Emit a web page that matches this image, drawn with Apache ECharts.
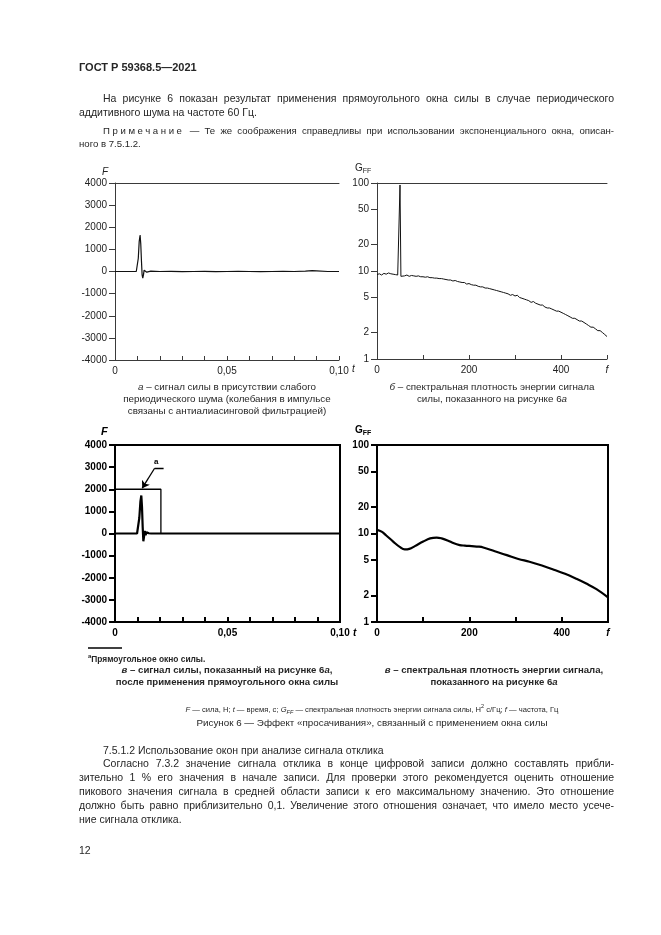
<!DOCTYPE html>
<html><head><meta charset="utf-8">
<script src="https://cdn.jsdelivr.net/npm/echarts@6/dist/echarts.min.js"></script>
<style>
html,body{margin:0;padding:0;background:#fff;}
#page{position:relative;width:661px;height:935px;overflow:hidden;font-family:"Liberation Sans",Arial,sans-serif;color:#262626;background:#fff;}
#chart{position:absolute;left:0;top:0;width:661px;height:935px;}
.t{position:absolute;white-space:nowrap;line-height:14px;font-size:10.5px;z-index:2;}
.j{position:absolute;line-height:14px;height:14px;font-size:10.5px;text-align:justify;text-align-last:justify;z-index:2;}
.c{position:absolute;text-align:center;line-height:12px;font-size:9.8px;z-index:2;white-space:nowrap;}
.b{font-weight:bold;}
</style>
</head><body>
<div id="page">
<div id="chart"></div>
<div class="t b" style="left:79px;top:60px;font-size:11px;">ГОСТ Р 59368.5—2021</div>
<div class="j" style="left:103px;width:511px;top:91px;">На рисунке 6 показан результат применения прямоугольного окна силы в случае периодического</div>
<div class="t" style="left:79px;top:105px;">аддитивного шума на частоте 60 Гц.</div>
<div class="j" style="left:103px;width:511px;top:124px;font-size:9.6px;"><span style="letter-spacing:2.6px;">Примечание</span> — Те же соображения справедливы при использовании экспоненциального окна, описан-</div>
<div class="t" style="left:79px;top:137px;font-size:9.6px;">ного в 7.5.1.2.</div>

<div class="c" style="left:77px;width:300px;top:381px;"><i>а</i> – сигнал силы в присутствии слабого<br>периодического шума (колебания в импульсе<br>связаны с антиалиасинговой фильтрацией)</div>
<div class="c" style="left:342px;width:300px;top:381px;"><i>б</i> – спектральная плотность энергии сигнала<br>силы, показанного на рисунке 6<i>а</i></div>

<div class="t b" style="left:88px;top:650px;font-size:8.4px;line-height:12px;"><sup style="font-size:6px;">a</sup>Прямоугольное окно силы.</div>
<div class="c b" style="left:77px;width:300px;top:664px;font-size:9.6px;"><i>в</i> – сигнал силы, показанный на рисунке 6<i>а</i>,<br>после применения прямоугольного окна силы</div>
<div class="c b" style="left:344px;width:300px;top:664px;font-size:9.6px;"><i>в</i> – спектральная плотность энергии сигнала,<br>показанного на рисунке 6<i>а</i></div>

<div class="c" style="left:122px;width:500px;top:700px;font-size:7.6px;"><i>F</i> — сила, Н; <i>t</i> — время, с; <i>G</i><sub style="font-size:5.5px;"><i>FF</i></sub> — спектральная плотность энергии сигнала силы, Н<sup style="font-size:5.5px;">2</sup> с/Гц; <i>f</i> — частота, Гц</div>
<div class="c" style="left:122px;width:500px;top:717px;font-size:9.8px;">Рисунок 6 — Эффект «просачивания», связанный с применением окна силы</div>

<div class="t" style="left:103px;top:743px;">7.5.1.2 Использование окон при анализе сигнала отклика</div>
<div class="j" style="left:103px;width:511px;top:756px;">Согласно 7.3.2 значение сигнала отклика в конце цифровой записи должно составлять прибли-</div>
<div class="j" style="left:79px;width:535px;top:770px;">зительно 1 % его значения в начале записи. Для проверки этого рекомендуется оценить отношение</div>
<div class="j" style="left:79px;width:535px;top:784px;">пикового значения сигнала в средней области записи к его максимальному значению. Это отношение</div>
<div class="j" style="left:79px;width:535px;top:798px;">должно быть равно приблизительно 0,1. Увеличение этого отношения означает, что имело место усече-</div>
<div class="t" style="left:79px;top:812px;">ние сигнала отклика.</div>
<div class="t" style="left:79px;top:843px;">12</div>
</div>
<script>
// ---- data ----
// (a) force signal with weak periodic noise
const timeA = [0, 0.005, 0.0095, 0.0100, 0.0104, 0.0108, 0.0112, 0.0115, 0.0118, 0.0121, 0.0124, 0.0127, 0.0130, 0.0134, 0.0138, 0.0142, 0.0146, 0.0150, 0.016, 0.020, 0.025, 0.030, 0.035, 0.040, 0.045, 0.050, 0.055, 0.060, 0.065, 0.070, 0.075, 0.080, 0.085, 0.088, 0.090, 0.095, 0.100];
const forceA = [0, 0, 0, 30, 600, 1350, 1650, 1250, 500, -150, -300, -150, 60, 110, 20, -30, 40, 10, 20, 0, 10, -10, 0, 10, -10, 0, 10, 0, -10, 0, 10, 0, 20, 40, 30, 0, 0];
// (b) spectrum of (a)
const freqB = [0,5,10,15,20,25,30,35,40,45,48,50,52,55,60,65,70,75,80,85,90,95,100,105,110,115,120,125,130,135,140,145,150,155,160,165,170,175,180,185,190,195,200,205,210,215,220,225,230,235,240,245,250,255,260,265,270,275,280,285,290,295,300,305,310,315,320,325,330,335,340,345,350,355,360,365,370,375,380,385,390,395,400,405,410,415,420,425,430,435,440,445,450,455,460,465,470,475,480,485,490,495,500];
const gffB = [9.1,9.3,9.0,9.4,9.2,9.5,9.3,9.2,9.1,9.0,8.9,95,8.7,9.1,8.8,9.0,8.7,8.9,8.8,8.7,8.8,8.6,8.6,8.5,8.6,8.4,8.4,8.3,8.3,8.2,8.2,8.1,8.0,7.9,7.9,7.7,7.8,7.6,7.5,7.4,7.4,7.1,7.2,7.0,6.9,6.9,6.7,6.6,6.6,6.4,6.4,6.3,6.2,6.1,6.0,5.9,5.8,5.7,5.6,5.5,5.3,5.4,5.2,5.3,5.0,4.9,4.8,4.7,4.6,4.4,4.5,4.3,4.2,4.1,4.1,3.9,3.8,3.8,3.7,3.6,3.5,3.5,3.4,3.3,3.2,3.1,3.0,2.9,2.9,2.8,2.7,2.7,2.6,2.5,2.4,2.3,2.3,2.2,2.1,2.1,2.0,1.9,1.8];
// (c) force after rectangular window
const timeC = [0, 0.0098, 0.0103, 0.0108, 0.0113, 0.0117, 0.0120, 0.0123, 0.0126, 0.0129, 0.0132, 0.0136, 0.0140, 0.0145, 0.0150, 0.0160, 0.0204, 0.03, 0.04, 0.05, 0.06, 0.07, 0.08, 0.09, 0.1];
const forceC = [0, 0, 80, 700, 1450, 1720, 1200, 300, -350, -150, 120, -80, 60, -20, 10, 0, 0, 0, 0, 0, 0, 0, 0, 0, 0];
const windowT = [0, 0.0204, 0.0204];
const windowF = [2000, 2000, 0];
const leaderT = [0.0216, 0.0176, 0.0121];
const leaderF = [2950, 2950, 2050];
// (d) spectrum of (c)
const freqD = [0,10,20,35,50,60,70,82,100,115,129,140,154,165,179,190,205,220,230,255,281,306,330,357,380,407,430,454,475,500];
const gffD = [11.0,10.5,9.5,8.1,7.0,6.6,6.7,7.2,8.1,8.8,9.0,8.8,8.3,7.8,7.4,7.3,7.2,7.1,6.95,6.3,5.7,5.15,4.8,4.35,3.95,3.5,3.1,2.7,2.35,1.9];
// ticks
const forceMin = -4000, forceMax = 4000, forceStep = 1000;
const timeLabels = [0, 0.05, 0.1];
const logTicks = [1, 2, 5, 10, 20, 50, 100];
const freqLabels = [0, 200, 400, 500];

const zip = (a, b) => a.map((v, i) => [v, b[i]]);
const FF = '"Liberation Sans", Arial, sans-serif';
const thin = {color: '#3a3a3a', width: 1};
const thick = {color: '#000', width: 2};
const lblThin = {fontSize: 10, color: '#222', fontFamily: FF};
const lblBold = {fontSize: 10, color: '#000', fontFamily: FF, fontWeight: 'bold'};
const fmtT = v => v === 0 ? '0' : v.toFixed(2).replace('.', ',');
const fmtF = v => v === 500 ? '{i|f}' : String(v);
const fmtLog = v => String(Math.round(Math.pow(10, v)));
const fmtInt = v => String(v);
const logPos = logTicks.map(Math.log10);

function timeAxis(g, bold) {
  return {gridIndex: g, type: 'value', min: 0, max: 0.1, interval: 0.01,
    axisLine: {show: true, onZero: false, lineStyle: bold ? thick : thin},
    axisTick: {show: true, inside: true, length: bold ? 5 : 4, lineStyle: bold ? thick : thin},
    axisLabel: Object.assign({customValues: timeLabels, formatter: fmtT, margin: 6}, bold ? lblBold : lblThin),
    splitLine: {show: false}};
}
function freqAxis(g, bold) {
  return {gridIndex: g, type: 'value', min: 0, max: 500, interval: 100,
    axisLine: {show: true, onZero: false, lineStyle: bold ? thick : thin},
    axisTick: {show: true, inside: true, length: bold ? 5 : 4, lineStyle: bold ? thick : thin},
    axisLabel: Object.assign({customValues: freqLabels, formatter: fmtF, margin: 6,
      rich: {i: {fontStyle: 'italic', fontSize: 10, fontWeight: bold ? 'bold' : 'normal', fontFamily: FF, color: bold ? '#000' : '#222'}}}, bold ? lblBold : lblThin),
    splitLine: {show: false}};
}
function topLine(g, max) {
  return {gridIndex: g, type: 'value', position: 'top', min: 0, max: max,
    axisLine: {show: true, onZero: false, lineStyle: thin}, axisTick: {show: false}, axisLabel: {show: false}, splitLine: {show: false}};
}
function forceAxis(g, bold) {
  return {gridIndex: g, type: 'value', position: 'left', min: forceMin, max: forceMax, interval: forceStep,
    axisLine: {show: true, onZero: false, lineStyle: bold ? thick : thin},
    axisTick: {show: true, length: 6, lineStyle: bold ? thick : thin},
    axisLabel: Object.assign({margin: 8, formatter: fmtInt}, bold ? lblBold : lblThin),
    splitLine: {show: false}};
}
function logAxis(g, bold) {
  return {gridIndex: g, type: 'log', logBase: 10, min: 1, max: 100, position: 'left',
    axisLine: {show: true, onZero: false, lineStyle: bold ? thick : thin},
    axisTick: {show: false}, axisLabel: {show: false}, splitLine: {show: false}, minorTick: {show: false}};
}
function logLabelAxis(g, bold) {
  return {gridIndex: g, type: 'value', min: 0, max: 2, position: 'left', offset: 0,
    axisLine: {show: false, onZero: false},
    axisTick: {show: true, length: 6, customValues: logPos, lineStyle: bold ? thick : thin},
    axisLabel: Object.assign({customValues: logPos, formatter: fmtLog, margin: 8}, bold ? lblBold : lblThin),
    splitLine: {show: false}};
}

const chart = echarts.init(document.getElementById('chart'), null, {width: 661, height: 935});
chart.setOption({
  animation: false,
  grid: [
    {left: 115, top: 183, width: 224, height: 177},
    {left: 377, top: 183, width: 230, height: 176},
    {left: 115, top: 445, width: 225, height: 177, show: true, borderColor: '#000', borderWidth: 2},
    {left: 377, top: 445, width: 231, height: 177, show: true, borderColor: '#000', borderWidth: 2}
  ],
  xAxis: [timeAxis(0, false), topLine(0, 0.1), freqAxis(1, false), topLine(1, 500), timeAxis(2, true), freqAxis(3, true)],
  yAxis: [forceAxis(0, false), logAxis(1, false), logLabelAxis(1, false), forceAxis(2, true), logAxis(3, true), logLabelAxis(3, true)],
  series: [
    {type: 'line', xAxisIndex: 0, yAxisIndex: 0, data: zip(timeA, forceA), showSymbol: false, lineStyle: {color: '#111', width: 1.2}},
    {type: 'line', xAxisIndex: 2, yAxisIndex: 1, data: zip(freqB, gffB), showSymbol: false, lineStyle: {color: '#111', width: 1}},
    {type: 'line', xAxisIndex: 4, yAxisIndex: 3, data: zip(windowT, windowF), showSymbol: false, lineStyle: {color: '#000', width: 1.3}},
    {type: 'line', xAxisIndex: 4, yAxisIndex: 3, data: zip(timeC, forceC), showSymbol: false, lineStyle: {color: '#000', width: 2.2}},
    {type: 'lines', coordinateSystem: 'cartesian2d', xAxisIndex: 4, yAxisIndex: 3, symbol: ['none', 'none'],
      lineStyle: {color: '#000', width: 1.3, opacity: 1}, data: [{coords: [[leaderT[0], leaderF[0]], [leaderT[1], leaderF[1]]]}]},
    {type: 'lines', coordinateSystem: 'cartesian2d', xAxisIndex: 4, yAxisIndex: 3, symbol: ['none', 'arrow'], symbolSize: 7,
      lineStyle: {color: '#000', width: 1.3, opacity: 1}, data: [{coords: [[leaderT[1], leaderF[1]], [leaderT[2], leaderF[2]]]}]},
    {type: 'line', xAxisIndex: 5, yAxisIndex: 4, data: zip(freqD, gffD), smooth: 0.4, showSymbol: false, lineStyle: {color: '#000', width: 2.2}}
  ],
  graphic: [
    {type: 'text', left: 102, top: 167, style: {text: 'F', font: 'italic 10px ' + FF, fill: '#222'}},
    {type: 'text', left: 355, top: 163, style: {text: '{g|G}{s|FF}', rich: {g: {fontSize: 10, fontFamily: FF, fill: '#222'}, s: {fontSize: 7, fontFamily: FF, fill: '#222', padding: [6, 0, 0, 0]}}}},
    {type: 'text', left: 352, top: 364, style: {text: 't', font: 'italic 10px ' + FF, fill: '#222'}},
    {type: 'text', left: 101, top: 426, style: {text: 'F', font: 'italic bold 11px ' + FF, fill: '#000'}},
    {type: 'text', left: 355, top: 425, style: {text: '{g|G}{s|FF}', rich: {g: {fontSize: 10, fontWeight: 'bold', fontFamily: FF, fill: '#000'}, s: {fontSize: 7, fontWeight: 'bold', fontFamily: FF, fill: '#000', padding: [6, 0, 0, 0]}}}},
    {type: 'text', left: 353, top: 628, style: {text: 't', font: 'italic bold 10px ' + FF, fill: '#000'}},
    {type: 'text', left: 154, top: 458, style: {text: 'a', font: 'bold 8px ' + FF, fill: '#000'}},
    {type: 'line', shape: {x1: 88, y1: 648, x2: 122, y2: 648}, style: {stroke: '#000', lineWidth: 1.5}}
  ]
});
</script>
</body></html>
